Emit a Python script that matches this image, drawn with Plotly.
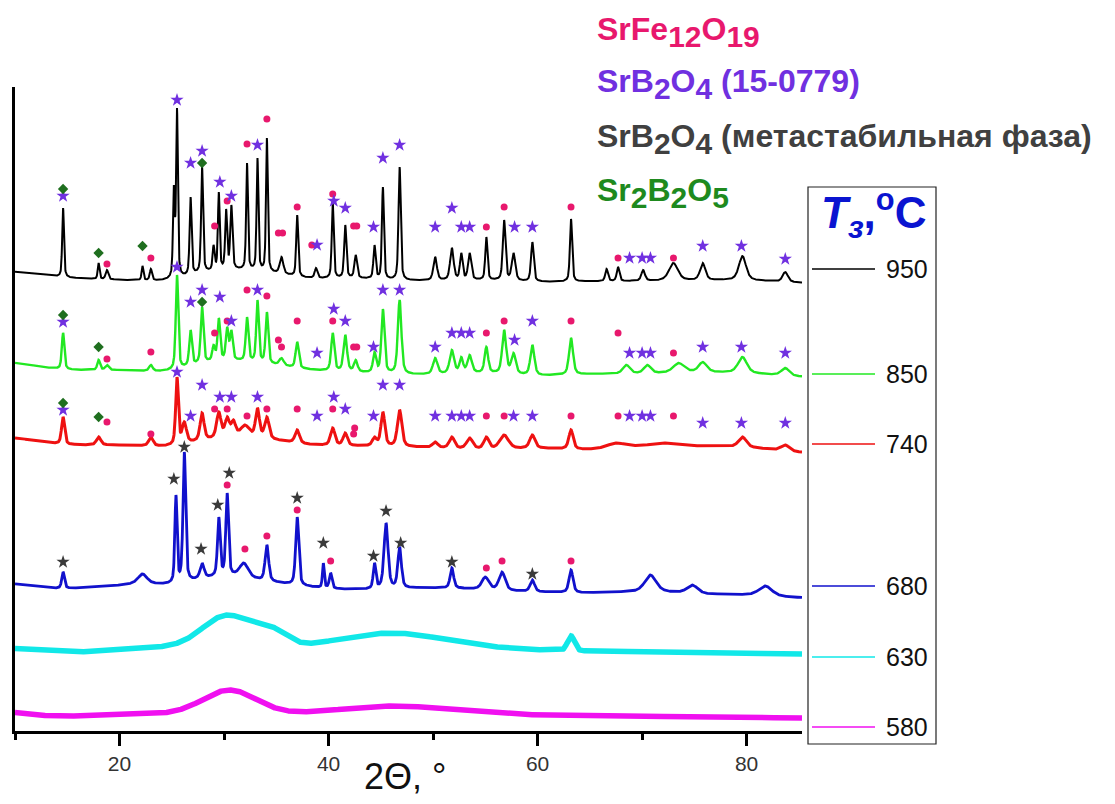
import numpy as np
import plotly.graph_objects as go

# ---------------- data (2θ in degrees, intensity in arbitrary units) ----------------
tt_min, tt_max = 10.0, 85.3

# 950 °C
b950_x = [10, 12, 15, 20, 25, 28, 31, 35, 38, 42, 48, 55, 60, 70, 80, 85.3]
b950_y = [460, 457, 453, 451, 450, 459, 462, 458, 452, 453, 450, 451, 449, 450, 451, 448]
p950_pos = [14.6, 18.0, 18.8, 22.2, 23.0, 25.2, 25.5, 26.8, 27.9, 29.0, 29.5, 30.2, 30.7, 32.2, 33.2,
            34.1, 35.5, 37.0, 38.8, 40.4, 41.6, 42.6, 44.4, 45.2, 46.8, 50.2, 51.8, 52.7, 53.5, 55.1,
            56.8, 57.7, 59.5, 63.2, 66.6, 67.7, 70.1, 73.0, 75.8, 79.6, 83.7]
p950_top = [523, 468, 461, 465, 462, 546, 623, 534, 564, 486, 539, 522, 526, 568, 573,
            593, 474, 516, 463, 528, 506, 476, 486, 544, 564, 474, 483, 478, 478, 494,
            511, 478, 489, 512, 462, 464, 461, 468, 468, 475, 459]
p950_fwhm = [0.2, 0.2, 0.3, 0.2, 0.25, 0.2, 0.2, 0.22, 0.22, 0.22, 0.2, 0.22, 0.25, 0.2, 0.2,
             0.2, 0.4, 0.22, 0.3, 0.22, 0.25, 0.3, 0.25, 0.22, 0.25, 0.4, 0.4, 0.3, 0.35, 0.25,
             0.3, 0.4, 0.3, 0.25, 0.3, 0.3, 0.4, 1.0, 0.6, 0.8, 0.6]

# 850 °C
b850_x = [10, 13, 15, 20, 25, 28, 31, 35, 38, 42, 48, 55, 60, 65, 70, 75, 80, 85.3]
b850_y = [369, 363, 361, 361, 359, 369, 371, 366, 361, 359, 356, 358, 355, 357, 357, 359, 358, 354]
p850_pos = [14.6, 18.0, 18.8, 23.0, 25.5, 26.8, 27.9, 29.0, 29.5, 30.3, 30.7, 32.2, 33.2, 34.1, 35.5,
            37.0, 40.4, 41.6, 42.6, 44.4, 45.2, 46.8, 50.2, 51.8, 52.7, 53.5, 55.1, 56.8, 57.7, 59.5,
            63.2, 68.5, 70.5, 73.5, 75.8, 79.6, 83.7]
p850_top = [398, 371, 366, 366, 456, 401, 424, 386, 413, 404, 401, 414, 431, 419, 373,
            389, 398, 396, 371, 379, 422, 431, 373, 381, 374, 376, 384, 401, 378, 386,
            393, 366, 366, 368, 369, 374, 363]
p850_fwhm = [0.28, 0.3, 0.4, 0.4, 0.28, 0.3, 0.3, 0.3, 0.3, 0.3, 0.3, 0.3, 0.28, 0.3, 0.5,
             0.35, 0.35, 0.4, 0.4, 0.35, 0.35, 0.4, 0.5, 0.5, 0.4, 0.5, 0.4, 0.45, 0.5, 0.45,
             0.45, 0.8, 0.8, 1.2, 0.9, 1.0, 0.9]

# 740 °C
b740_x = [10, 13, 15, 20, 25, 28, 31, 35, 38, 42, 48, 55, 60, 65, 70, 75, 80, 85.3]
b740_y = [294, 288, 286, 286, 284, 291, 294, 291, 286, 285, 284, 281, 283, 281, 285, 285, 284, 278]
p740_pos = [14.6, 18.0, 23.0, 25.5, 26.2, 27.9, 29.5, 30.3, 30.9, 32.0, 33.2, 34.1, 37.0, 40.4, 41.6,
            44.4, 45.2, 46.8, 50.2, 51.8, 53.5, 55.1, 56.8, 59.5, 63.2, 67.5, 72.0, 79.6, 83.7]
p740_top = [314, 294, 294, 354, 309, 318, 319, 314, 311, 306, 323, 314, 301, 303, 298,
            294, 319, 321, 289, 294, 293, 294, 296, 296, 301, 288, 288, 294, 286]
p740_fwhm = [0.35, 0.5, 0.5, 0.3, 0.5, 0.45, 0.5, 0.5, 0.5, 1.0, 0.45, 0.5, 0.5, 0.5, 0.5,
             0.5, 0.45, 0.5, 0.6, 0.6, 0.7, 0.6, 1.0, 0.6, 0.5, 2.0, 2.5, 0.9, 1.0]

# 680 °C
b680_x = [10, 12, 14, 16, 20, 22, 24, 25, 28, 31, 33, 36, 38, 42, 48, 52, 55, 60, 65, 68, 72, 75, 80, 85.3]
b680_y = [148, 144, 142, 143, 145, 149, 146, 145, 153, 156, 151, 147, 144, 141, 143, 143, 141, 139, 138, 139,
          139, 137, 136, 133]
p680_pos = [14.6, 22.2, 25.4, 26.2, 27.9, 29.5, 30.3, 31.9, 34.1, 37.0, 39.5, 40.2, 44.4, 45.5, 46.8,
            51.8, 55.0, 56.6, 59.5, 63.2, 70.8, 74.8, 81.8]
p680_top = [159, 157, 236, 279, 168, 214, 238, 168, 186, 214, 168, 158, 168, 208, 184,
            163, 154, 159, 151, 161, 156, 146, 145]
p680_fwhm = [0.3, 1.0, 0.25, 0.3, 0.45, 0.3, 0.3, 1.0, 0.4, 0.35, 0.2, 0.3, 0.3, 0.45, 0.4,
             0.4, 0.8, 0.7, 0.5, 0.45, 1.3, 1.2, 1.5]

# 630 °C (amorphous halo)
b630_x = [10, 15, 20, 25, 38, 55, 65, 85.3]
b630_y = [83, 78, 82, 84, 82, 82, 80, 77]
p630_pos = [30.3, 34.5, 46.0, 63.2]
p630_top = [116, 105, 98, 95]
p630_fwhm = [5.5, 3.5, 12.0, 0.8]

# 580 °C (amorphous halo)
b580_x = [10, 14, 20, 38, 60, 85.3]
b580_y = [19, 14, 17, 17, 16, 13]
p580_pos = [30.5, 46.5]
p580_top = [41, 25]
p580_fwhm = [6.0, 12.0]

# phase marks: SrFe12O19 (circles)
fe_x = [18.8, 23.0, 29.1, 30.3, 32.2, 34.1, 35.2, 35.6, 37.0, 38.4, 40.4, 42.4, 42.7, 55.1, 56.8, 63.2, 67.7, 73.0,
        18.8, 23.0, 29.1, 30.3, 32.2, 34.1, 35.2, 35.5, 37.0, 40.4, 42.4, 42.7, 55.1, 56.8, 63.2, 67.7, 73.0,
        18.8, 23.0, 29.1, 30.3, 32.2, 34.1, 37.0, 40.4, 42.5, 42.4, 55.1, 56.8, 63.2, 67.7, 73.0,
        30.3, 32.0, 34.1, 37.0, 40.2, 55.1, 56.6, 63.2]
fe_y = [467, 473, 505, 530, 587, 612, 498, 498, 524, 486, 537, 505, 505, 504, 524, 524, 473, 473,
        372, 379, 398, 410, 441, 435, 391, 384, 410, 410, 384, 384, 398, 410, 410, 398, 378,
        309, 297, 322, 322, 315, 322, 322, 322, 303, 297, 315, 315, 315, 315, 315,
        246, 182, 195, 221, 170, 163, 170, 170]
# SrB2O4 (15-0779) (violet stars)
sb_x = [14.6, 25.5, 26.8, 27.9, 29.6, 30.7, 33.2, 38.9, 40.5, 41.6, 44.3, 45.2, 46.8, 50.2, 51.8, 52.7, 53.5,
        57.8, 59.5, 68.8, 70.0, 70.8, 75.8, 79.5, 83.7,
        14.6, 25.5, 26.8, 27.9, 29.6, 30.7, 33.2, 38.9, 40.5, 41.6, 44.3, 45.2, 46.8, 50.2, 51.8, 52.7, 53.5,
        57.8, 59.5, 68.8, 70.0, 70.8, 75.8, 79.5, 83.7,
        14.6, 25.5, 26.8, 27.9, 29.6, 30.7, 33.2, 38.9, 40.5, 41.6, 44.3, 45.2, 46.8, 50.2, 51.8, 52.7, 53.5,
        57.7, 59.5, 68.8, 70.0, 70.8, 75.8, 79.5, 83.7]
sb_y = [535, 631, 568, 580, 549, 535, 586, 486, 530, 523, 504, 573, 586, 504, 523, 504, 504,
        504, 504, 473, 473, 473, 485, 485, 472,
        409, 464, 429, 441, 434, 410, 441, 378, 422, 410, 384, 441, 441, 384, 398, 398, 398,
        391, 410, 378, 378, 378, 384, 384, 378,
        321, 359, 315, 346, 334, 334, 334, 315, 334, 322, 315, 346, 346, 315, 315, 315, 315,
        315, 315, 315, 315, 315, 308, 308, 308]
# SrB2O4 metastable phase (dark stars)
ms_x = [14.6, 25.2, 26.2, 27.8, 29.4, 30.5, 37.0, 39.5, 44.3, 45.5, 46.9, 51.8, 59.5]
ms_y = [169, 252, 284, 182, 226, 258, 233, 188, 175, 220, 188, 169, 157]
# Sr2B2O5 (diamonds)
sr_x = [14.6, 18.0, 22.2, 27.9, 14.6, 18.0, 27.9, 14.6, 18.0]
sr_y = [542, 478, 485, 568, 416, 384, 429, 328, 314]

temps = ["950", "850", "740", "680", "630", "580"]

# ---------------- build profiles ----------------
STEP = 0.02
x = np.arange(tt_min, tt_max + 1e-9, STEP)


def unit_profile(t, c, w, eta):
    d = (t - c) / w
    lor = 1.0 / (1.0 + 4.0 * d * d)
    gau = np.exp(-4.0 * np.log(2) * d * d)
    return eta * lor + (1 - eta) * gau


def smooth_baseline(bx, by, sigma=1.2):
    base = np.interp(x, bx, by)
    n = int(4 * sigma / STEP)
    k = np.exp(-0.5 * (np.arange(-n, n + 1) * STEP / sigma) ** 2)
    k /= k.sum()
    padded = np.pad(base, n, mode="edge")
    return np.convolve(padded, k, mode="valid")


def pattern(bx, by, pos, top, fwhm, eta):
    pos = np.array(pos, float); top = np.array(top, float); fwhm = np.array(fwhm, float)
    base = smooth_baseline(bx, by)
    base_c = np.interp(pos, x, base)
    A = np.array([[unit_profile(ci, cj, wj, eta) for cj, wj in zip(pos, fwhm)] for ci in pos])
    h = np.linalg.solve(A, top - base_c)
    h = np.clip(h, 0, None)
    y = base.copy()
    for cj, wj, hj in zip(pos, fwhm, h):
        y += hj * unit_profile(x, cj, wj, eta)
    return y


series = [
    (pattern(b950_x, b950_y, p950_pos, p950_top, p950_fwhm, 0.5), "#000000", 2.0),
    (pattern(b850_x, b850_y, p850_pos, p850_top, p850_fwhm, 0.5), "#22e822", 2.4),
    (pattern(b740_x, b740_y, p740_pos, p740_top, p740_fwhm, 0.5), "#ee1111", 3.0),
    (pattern(b680_x, b680_y, p680_pos, p680_top, p680_fwhm, 0.5), "#1111cc", 2.8),
    (pattern(b630_x, b630_y, p630_pos, p630_top, p630_fwhm, 0.0), "#11e8e8", 5.5),
    (pattern(b580_x, b580_y, p580_pos, p580_top, p580_fwhm, 0.0), "#f010f0", 5.5),
]

fig = go.Figure()
for y, col, lw in series:
    fig.add_trace(go.Scatter(x=x, y=y, mode="lines", line=dict(color=col, width=lw),
                             showlegend=False, hoverinfo="skip"))

fig.add_trace(go.Scatter(x=fe_x, y=fe_y, mode="markers", showlegend=False,
                         marker=dict(symbol="circle", size=7, color="#e8186d")))
fig.add_trace(go.Scatter(x=sb_x, y=sb_y, mode="markers", showlegend=False,
                         marker=dict(symbol="star", size=10, color="#7030e0")))
fig.add_trace(go.Scatter(x=ms_x, y=ms_y, mode="markers", showlegend=False,
                         marker=dict(symbol="star", size=10, color="#3a3a3a")))
fig.add_trace(go.Scatter(x=sr_x, y=sr_y, mode="markers", showlegend=False,
                         marker=dict(symbol="diamond", size=8, color="#1f6f1f")))

# ---------------- layout ----------------
OFF = 8                      # default page margin of the html body
W, H = 1115 - 2 * OFF, 804 - 2 * OFF
PL, PR, PT, PB = 15, 802, 87, 731   # plot area in page pixels


def px(v):
    return (v - PL) / (PR - PL)


def py(v):
    return (PB - v) / (PB - PT)


FONT = "Liberation Sans, Arial, sans-serif"

fig.update_layout(
    width=W, height=H,
    margin=dict(l=PL - OFF, r=W - (PR - OFF), t=PT - OFF, b=H - (PB - OFF), pad=0),
    paper_bgcolor="white", plot_bgcolor="white",
    font=dict(family=FONT, color="#222222"),
    xaxis=dict(range=[tt_min, tt_max], showgrid=False, zeroline=False,
               showline=True, linecolor="black", linewidth=2.5,
               ticks="outside", ticklen=12, tickwidth=2.5, tickcolor="black",
               tick0=0, dtick=20, tickfont=dict(size=21, color="#333333"),
               minor=dict(ticks="outside", ticklen=6, tickwidth=2.5, tickcolor="black",
                          tick0=0, dtick=10)),
    yaxis=dict(range=[0, PB - PT], showgrid=False, zeroline=False, showticklabels=False,
               showline=True, linecolor="black", linewidth=2.5, ticks=""),
)

annotations = []
shapes = []

# x axis title
annotations.append(dict(x=px(362), y=py(776), xref="paper", yref="paper", text="2Θ, °",
                        showarrow=False, font=dict(size=36, color="#111111", family=FONT),
                        xanchor="left", yanchor="middle"))

# phase legend (top right)
FS = 32


def sub(s):
    return "<sub><span style='font-size:%dpx'>%s</span></sub>" % (FS - 2, s)


phase_texts = [
    ("SrFe" + sub("12") + "O" + sub("19"), "#e8186d", 32),
    ("SrB" + sub("2") + "O" + sub("4") + " (15-0779)", "#7030e0", 84),
    ("SrB" + sub("2") + "O" + sub("4") + " (метастабильная фаза)", "#404040", 139),
    ("Sr" + sub("2") + "B" + sub("2") + "O" + sub("5"), "#1e8a1e", 193),
]
for txt, col, yy in phase_texts:
    annotations.append(dict(x=px(595), y=py(yy), xref="paper", yref="paper",
                            text="<b>" + txt + "</b>", showarrow=False,
                            font=dict(size=FS, color=col, family=FONT),
                            xanchor="left", yanchor="middle"))

# temperature legend box
shapes.append(dict(type="rect", xref="paper", yref="paper",
                   x0=px(808), x1=px(936), y0=py(744), y1=py(187),
                   line=dict(color="#222222", width=1.2), fillcolor="rgba(0,0,0,0)"))
annotations.append(dict(x=px(873), y=py(214), xref="paper", yref="paper",
                        text="<b><i>T</i><sub><i>з</i></sub>,<sup>o</sup>C</b>", showarrow=False,
                        font=dict(size=44, color="#0a14d0", family=FONT),
                        xanchor="center", yanchor="middle"))
leg_y = [269, 374, 444, 586, 657, 727]
for (yv, col, lw), t, ly in zip(series, temps, leg_y):
    shapes.append(dict(type="line", xref="paper", yref="paper",
                       x0=px(812), x1=px(875), y0=py(ly), y1=py(ly),
                       line=dict(color=col, width=1.3)))
    annotations.append(dict(x=px(884), y=py(ly), xref="paper", yref="paper", text=t,
                            showarrow=False, font=dict(size=25, color="#111111", family=FONT),
                            xanchor="left", yanchor="middle"))

fig.update_layout(annotations=annotations, shapes=shapes)
fig.write_html("out.html")
